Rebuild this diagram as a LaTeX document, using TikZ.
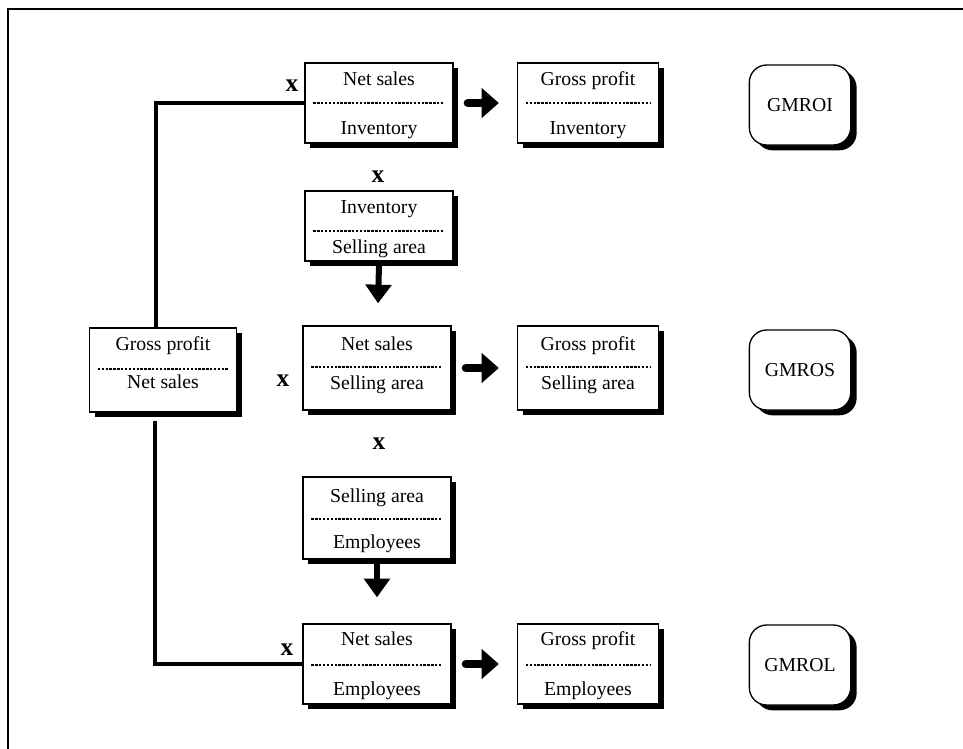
\documentclass[tikz,border=0pt]{standalone}
\usepackage{fontspec}
\setmainfont{Liberation Serif}
\usetikzlibrary{arrows.meta,shadows,calc}

% #1 name, #2 centre "x,y", #3 width (px), #4 height (px), #5 y of the dashed rule,
% #6 baseline of the upper text, #7 baseline of the lower text, #8 upper text, #9 lower text
\newcommand\ratiobox[9]{%
  \node[rbox, minimum width=#3*0.75pt, minimum height=#4*0.75pt] (#1) at (#2) {};
  \node[rtext] (#1-num) at (#1 |- 0,#6) {#8};
  \node[rtext] (#1-den) at (#1 |- 0,#7) {#9};
  \draw[ratiorule] ($(#1.west |- 0,#5)+(9,0)$) -- ($(#1.east |- 0,#5)+(-9,0)$);
}

\begin{document}
\begin{tikzpicture}[x=0.75pt,y=-0.75pt,
  rbox/.style={draw, line width=1pt, fill=white, inner sep=0pt,
    drop shadow={shadow xshift=3.8pt, shadow yshift=-3.8pt, opacity=1, fill=black}},
  gbox/.style={draw, line width=1pt, fill=white, inner sep=0pt, rounded corners=13pt,
    minimum width=76pt, minimum height=60pt, font=\fontsize{14.8}{16}\selectfont,
    drop shadow={shadow xshift=4.5pt, shadow yshift=-4pt, opacity=1, fill=black}},
  rtext/.style={font=\fontsize{14.8}{16}\selectfont, inner sep=0pt, anchor=base},
  ratiorule/.style={line width=0.8pt, dash pattern=on 1.8pt off 1.1pt},
  timesmark/.style={font=\bfseries\fontsize{19}{20}\selectfont, inner sep=0pt},
  link/.style={line width=3.2pt},
  harrow/.style={line width=6pt, line cap=round, -{Triangle[length=13pt,width=22pt]}},
  varrow/.style={line width=4.5pt, -{Triangle[length=14pt,width=19pt]}}]

\useasboundingbox (0,0) rectangle (963,749);

% frame
\coordinate (frameR) at (963,9);
\coordinate (frameC) at (8,9);
\coordinate (frameB) at (8,749);
\draw[line width=1.5pt] (frameR) -- (frameC) -- (frameB);

% ratio boxes
\ratiobox{nsi}{379,103}{148}{80}{103}{85}{134}{Net sales}{Inventory}
\ratiobox{gpi}{588,103}{141}{80}{103}{85}{134}{Gross profit}{Inventory}
\ratiobox{isa}{379,226}{148}{70}{231}{213}{253}{Inventory}{Selling area}
\ratiobox{gpns}{163,370}{147}{84}{369}{350}{388}{Gross profit}{Net sales}
\ratiobox{nssa}{377,368}{148}{84}{367}{350}{389}{Net sales}{Selling area}
\ratiobox{gpsa}{588,368}{141}{84}{367}{350}{389}{Gross profit}{Selling area}
\ratiobox{sae}{377,518}{148}{82}{519}{502}{548}{Selling area}{Employees}
\ratiobox{nse}{377,664}{148}{80}{665}{645}{695}{Net sales}{Employees}
\ratiobox{gpe}{588,664}{141}{80}{665}{645}{695}{Gross profit}{Employees}

% result boxes
\node[gbox] (gmroi) at (800,105) {GMROI};
\node[gbox] (gmros) at (800,370) {GMROS};
\node[gbox] (gmrol) at (800,665) {GMROL};

% connectors from the margin ratio
\draw[link] ([xshift=-5pt]gpns.north) |- (nsi.west);
\draw[link] ([xshift=-6pt,yshift=-6pt]gpns.south) |- (nse.west);

% multiplication marks
\node[timesmark] (x1) at (292,86) {x};
\node[timesmark] (x2) at (378,177) {x};
\node[timesmark] (x3) at (283,381) {x};
\node[timesmark] (x4) at (379,444) {x};
\node[timesmark] (x5) at (287,650) {x};

% result arrows
\draw[harrow] ([xshift=10.5pt]nsi.east) -- ([xshift=-13.5pt]gpi.west);
\draw[harrow] ([xshift=10.5pt]nssa.east) -- ([xshift=-13.5pt]gpsa.west);
\draw[harrow] ([xshift=10.5pt]nse.east) -- ([xshift=-13.5pt]gpe.west);

% downward arrows
\coordinate (tipA) at ($(nssa.north)+(1,-22)$);
\coordinate (tipB) at ($(nse.north)+(0,-26)$);
\draw[varrow] ([yshift=-2pt]isa.south) -- (tipA);
\draw[varrow] ([yshift=-2pt]sae.south) -- (tipB);

\end{tikzpicture}
\end{document}
